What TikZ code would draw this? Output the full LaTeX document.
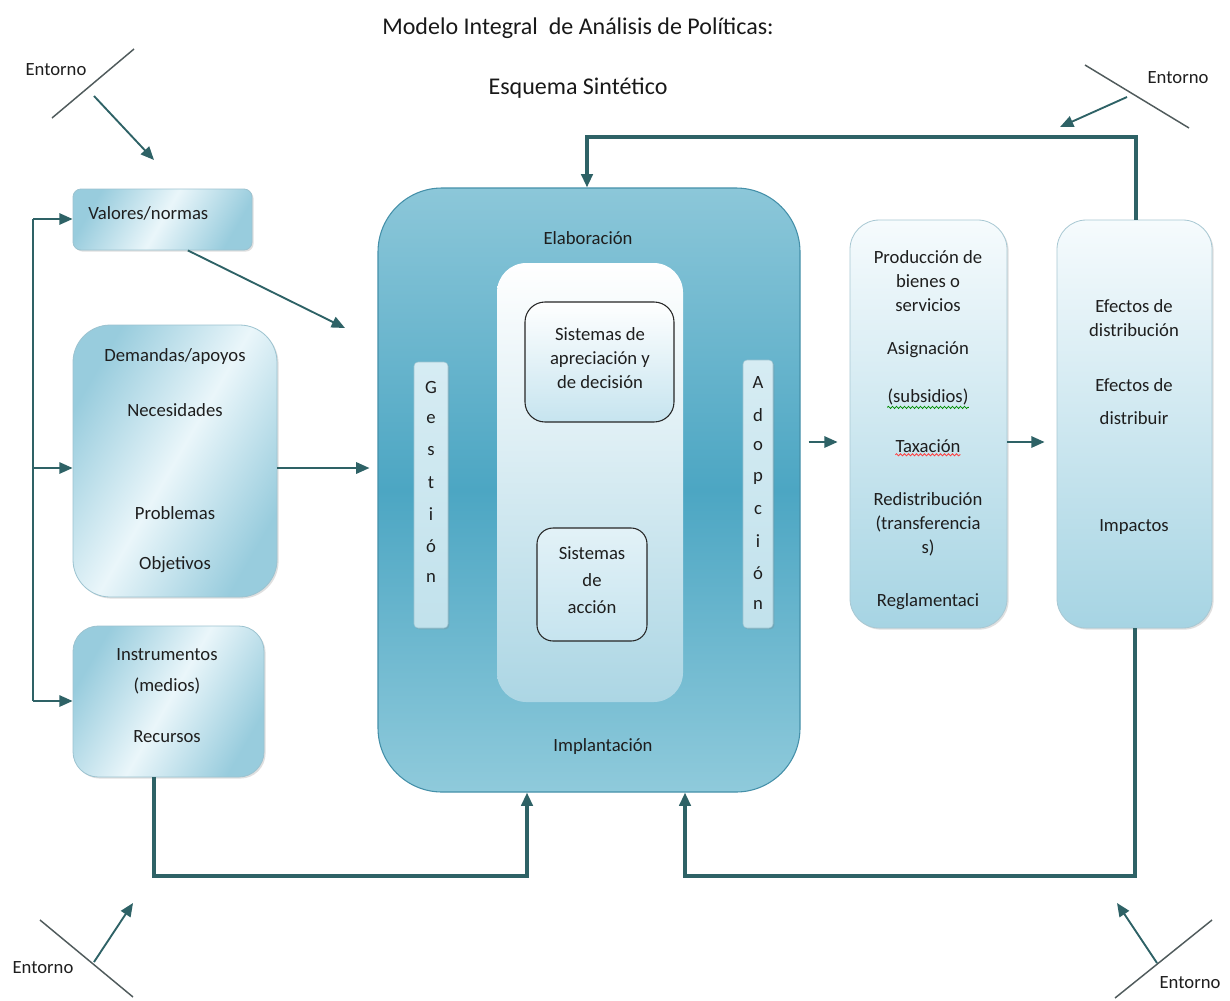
\documentclass[tikz,border=0pt]{standalone}
\usepackage{fontspec}
\setmainfont{Carlito}
\usetikzlibrary{arrows.meta,fit,shadows,decorations.pathmorphing}
\definecolor{lineC}{HTML}{2E6266}
\definecolor{slashC}{HTML}{505B5C}
\definecolor{txtC}{HTML}{1E1E1E}
\definecolor{boxBlue}{HTML}{98CCDD}
\definecolor{boxLight}{HTML}{EAF6FA}
\definecolor{boxEdge}{HTML}{9CC3D0}
\definecolor{mainTop}{HTML}{8CC7D9}
\definecolor{mainMid}{HTML}{4CA6C3}
\definecolor{mainBot}{HTML}{8FCADB}
\definecolor{mainEdge}{HTML}{4590A9}
\definecolor{innerBot}{HTML}{ACD6E4}
\definecolor{sisBot}{HTML}{C6E4EF}
\definecolor{stripC}{HTML}{D6ECF3}
\definecolor{rightTop}{HTML}{F6FBFD}
\definecolor{rightBot}{HTML}{A6D4E3}
\definecolor{rightEdge}{HTML}{A8C8D3}
\begin{document}
\begin{tikzpicture}[x=0.75pt,y=-0.75pt,
  txt/.style={font=\fontsize{14}{18}\selectfont, text=txtC, inner sep=0pt, align=center},
  ttl/.style={font=\fontsize{18}{22}\selectfont, text=black!90, inner sep=0pt},
  sidebox/.style={inner sep=0pt, draw=boxEdge, line width=0.6pt,
    left color=boxBlue, right color=boxBlue, middle color=boxLight, shading angle=60,
    drop shadow={shadow xshift=1.2pt, shadow yshift=-1.2pt, opacity=0.25}},
  rightbox/.style={inner sep=0pt, rounded corners=22pt, draw=rightEdge, line width=0.6pt,
    top color=rightTop, bottom color=rightBot,
    drop shadow={shadow xshift=1.2pt, shadow yshift=-1.2pt, opacity=0.25}},
  strip/.style={inner sep=0pt, rounded corners=3pt, draw=boxEdge, line width=0.4pt,
    top color=stripC, bottom color=stripC!85!mainMid,
    drop shadow={shadow xshift=1pt, shadow yshift=-1pt, opacity=0.25}},
  conn/.style={draw=lineC, line width=1.6pt},
  loopline/.style={draw=lineC, line width=2.4pt},
  tip/.style={-{Triangle[length=10pt,width=8.5pt]}},
  slash/.style={draw=slashC, line width=1.1pt},
  wavy/.style={decorate, decoration={snake, amplitude=0.8pt, segment length=3pt}, line width=0.6pt}]
\useasboundingbox (0,0) rectangle (1230,1000);
\fill[white] (0,0) rectangle (1230,1000);

% titles
\node[ttl] (t1) at (578,28) {Modelo Integral\ \ de Análisis\ de Políticas:};
\node[ttl] (t2) at (578,88) {Esquema Sintético};

% left boxes
\node[sidebox, fit={(73,189) (252,250)}, rounded corners=6pt] (val) {};
\node[txt, anchor=west] (valT) at (88,213) {Valores/normas};

\node[sidebox, fit={(73,325) (277,597)}, rounded corners=28pt] (dem) {};
\node[txt] (dem1) at (175,357) {Demandas/apoyos};
\node[txt] (dem2) at (175,410) {Necesidades};
\node[txt] (dem3) at (175,513) {Problemas};
\node[txt] (dem4) at (175,565) {Objetivos};

\node[sidebox, fit={(73,626) (264,777)}, rounded corners=19pt] (ins) {};
\node[txt] (ins1) at (167,655) {Instrumentos};
\node[txt] (ins2) at (167,686) {(medios)};
\node[txt] (ins3) at (167,737) {Recursos};

% main box
\node[fit={(378,188) (800,792)}, inner sep=0pt, rounded corners=48pt, draw=mainEdge, line width=0.8pt,
  top color=mainTop, bottom color=mainBot, middle color=mainMid] (main) {};
\node[txt] (elab) at (588,238) {Elaboración};
\node[txt] (impl) at (603,747) {Implantación};
\node[fit={(497,263) (683,702)}, inner sep=0pt, rounded corners=22pt,
  top color=white, bottom color=innerBot] (inner) {};
\node[fit={(525,302) (674,422)}, inner sep=0pt, rounded corners=15pt, draw=black!85, line width=0.8pt,
  top color=white, bottom color=sisBot] (sis1) {};
\node[txt] (sis1T) at (600,358) {Sistemas de\\apreciación y\\de decisión};
\node[fit={(537,528) (647,641)}, inner sep=0pt, rounded corners=12pt, draw=black!85, line width=0.8pt,
  top color=sisBot!50, bottom color=sisBot] (sis2) {};
\node[txt, font=\fontsize{14}{20}\selectfont] (sis2T) at (592,580) {Sistemas\\de\\acción};

\node[strip, fit={(414,362) (448,628)}] (gest) {};
\foreach \l [count=\i] in {G,e,s,t,i,ó,n}
  \node[txt] (g\i) at (431,{387+31.8*(\i-1)}) {\l};
\node[strip, fit={(743,360) (773,628)}] (adop) {};
\foreach \l [count=\i] in {A,d,o,p,c,i,ó,n}
  \node[txt] (a\i) at (758,{383+31.7*(\i-1)}) {\l};

% right boxes
\node[rightbox, fit={(850,220) (1007,628)}] (prod) {};
\node[txt] (p1) at (928,281) {Producción de\\bienes o\\servicios};
\node[txt] (p2) at (928,350) {Asignación};
\node[txt] (p3) at (928,397) {(subsidios)};
\node[txt] (p4) at (928,446) {Taxación};
\node[txt] (p5) at (928,524) {Redistribución\\(transferencia\\s)};
\node[txt] (p6) at (928,602) {Reglamentaci};
\draw[wavy, draw=green!55!black] ([yshift=-1.5pt]p3.south west) -- ([yshift=-1.5pt]p3.south east);
\draw[wavy, draw=red!75] ([yshift=-1.5pt]p4.south west) -- ([yshift=-1.5pt]p4.south east);

\node[rightbox, fit={(1057,220) (1212,628)}] (eff) {};
\node[txt] (e1) at (1134,318) {Efectos de\\distribución};
\node[txt] (e2) at (1134,385) {Efectos de};
\node[txt] (e3) at (1134,418) {distribuir};
\node[txt] (e4) at (1134,527) {Impactos};

% left bus
\coordinate (bt) at (33,219);
\coordinate (bm) at (33,468);
\coordinate (bb) at (33,701);
\draw[conn, line width=2pt] (bt) -- (bb);
\draw[conn, tip] (bt) -- (bt -| val.west);
\draw[conn, tip] (bm) -- (bm -| dem.west);
\draw[conn, tip] (bb) -- (bb -| ins.west);

% into main box
\coordinate (vEnd) at (345,328);
\draw[conn, line width=1.4pt, tip] ([xshift=19pt]val.south) -- (vEnd);
\coordinate (dm) at (277,468);
\draw[conn, tip, shorten >=6pt] (dm -| dem.east) -- (dm -| main.west);
\coordinate (mp) at (800,442);
\draw[conn, tip, shorten <=6pt, shorten >=9pt] (mp -| main.east) -- (mp -| prod.west);
\draw[conn, tip, shorten >=9pt] (mp -| prod.east) -- (mp -| eff.west);

% loops
\coordinate (tr1) at (1136,137);
\coordinate (tr2) at (587,137);
\draw[loopline, tip] (tr1 |- eff.north) -- (tr1) -- (tr2) -- (tr2 |- main.north);
\coordinate (bl1) at (154,876);
\coordinate (bl2) at (527,876);
\draw[loopline, tip] (bl1 |- ins.south) -- (bl1) -- (bl2) -- (bl2 |- main.south);
\coordinate (br1) at (1135,876);
\coordinate (br2) at (685,876);
\draw[loopline, tip] (br1 |- eff.south) -- (br1) -- (br2) -- (br2 |- main.south);

% Entorno marks
\node[txt] (en1) at (56,70) {Entorno};
\coordinate (s1a) at (52,118); \coordinate (s1b) at (134,49);
\draw[slash] (s1a) -- (s1b);
\coordinate (a1s) at (94,96); \coordinate (a1t) at (154,160);
\draw[conn, line width=1.4pt, tip] (a1s) -- (a1t);

\node[txt] (en2) at (1178,78) {Entorno};
\coordinate (s2a) at (1085,65); \coordinate (s2b) at (1189,128);
\draw[slash] (s2a) -- (s2b);
\coordinate (a2s) at (1127,97); \coordinate (a2t) at (1060,127);
\draw[conn, line width=1.4pt, tip] (a2s) -- (a2t);

\node[txt] (en3) at (43,968) {Entorno};
\coordinate (s3a) at (40,920); \coordinate (s3b) at (133,997);
\draw[slash] (s3a) -- (s3b);
\coordinate (a3s) at (94,962); \coordinate (a3t) at (133,903);
\draw[conn, line width=1.4pt, tip] (a3s) -- (a3t);

\node[txt] (en4) at (1190,983) {Entorno};
\coordinate (s4a) at (1115,998); \coordinate (s4b) at (1212,920);
\draw[slash] (s4a) -- (s4b);
\coordinate (a4s) at (1157,963); \coordinate (a4t) at (1117,903);
\draw[conn, line width=1.4pt, tip] (a4s) -- (a4t);
\end{tikzpicture}
\end{document}
